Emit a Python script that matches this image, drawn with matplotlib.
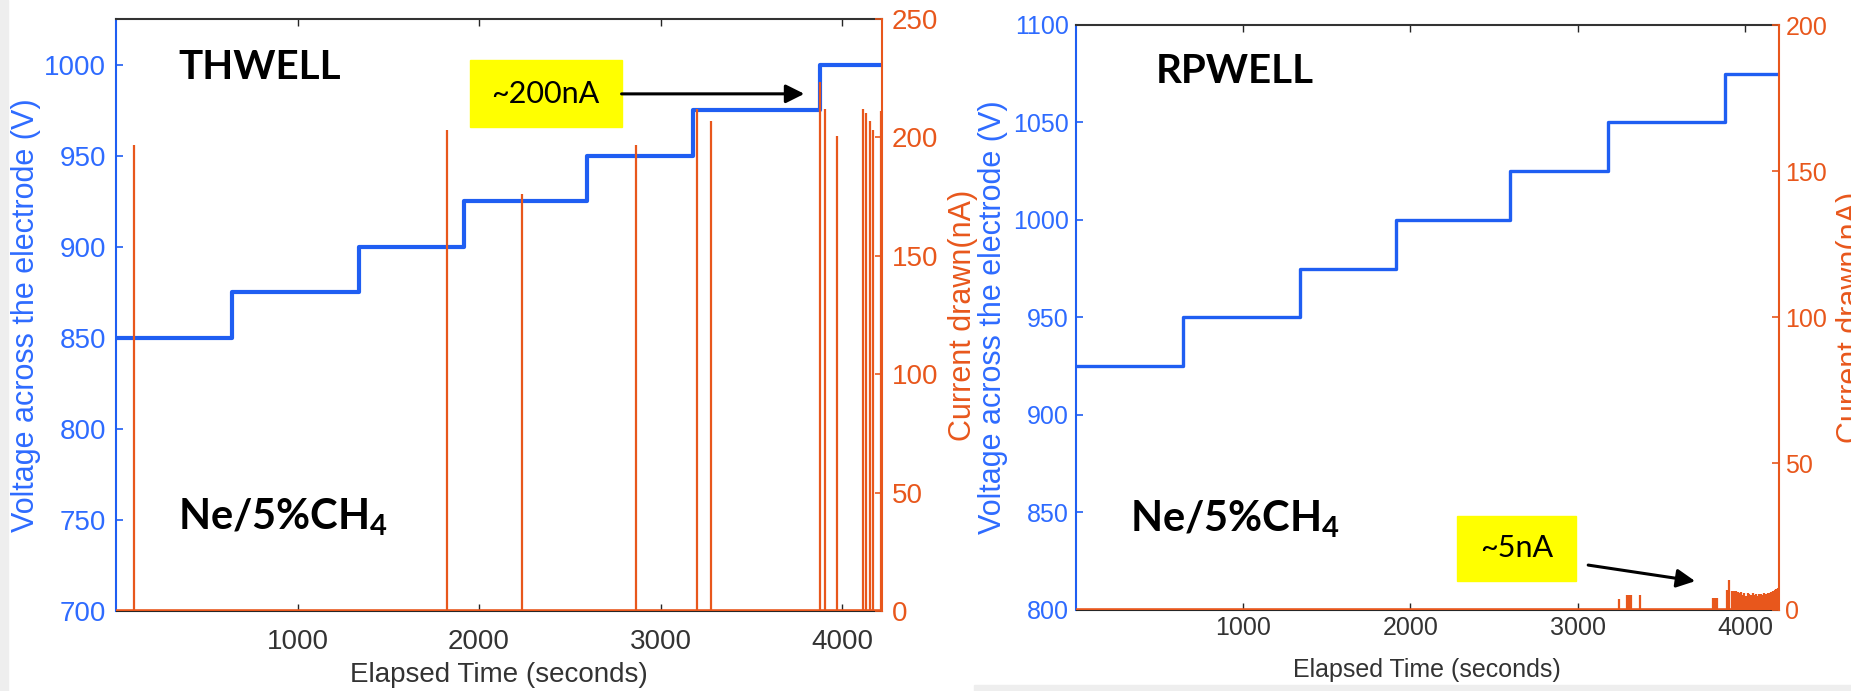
import matplotlib.pyplot as plt
from matplotlib.patches import Rectangle

plt.rcParams['font.family'] = ['Liberation Sans', 'DejaVu Sans']
plt.rcParams['mathtext.fontset'] = 'custom'
plt.rcParams['mathtext.rm'] = 'Lato'
plt.rcParams['mathtext.bf'] = 'Lato:bold'

# Voltage steps (same schedule for both detectors)
step_times = [0, 640, 1340, 1915, 2595, 3180, 3880]
thwell_volts = [850, 875, 900, 925, 950, 975, 1000]
rpwell_volts = [925, 950, 975, 1000, 1025, 1050, 1075]
thwell_end = 4220
rpwell_end = 4200

# Current spikes (seconds, nA)
thwell_spike_t = [98, 1823, 2234, 2863, 3199, 3277, 3881, 3908, 3970,
                  4115, 4130, 4156, 4168, 4212]
thwell_spike_i = [197, 203, 176, 197, 212, 207, 223.5, 212, 200.5,
                  212, 210.5, 207, 203, 211]

rpwell_spike_t = [3247, 3292, 3305, 3318, 3374,
                  3810, 3815, 3820, 3825, 3830,
                  3890, 3903, 3923, 3935, 3945, 3955, 3965, 3975, 3985, 3995,
                  4005, 4015, 4025, 4035, 4045, 4055, 4065, 4075, 4085, 4095,
                  4105, 4115, 4125, 4135, 4145, 4155, 4165, 4175, 4185, 4195]
rpwell_spike_i = [3.7, 5.1, 5.1, 5.1, 4.9,
                  4, 4, 4, 4, 4,
                  6.6, 10.2, 6.3, 6.3, 6.2, 6.0, 5.5, 6.0, 5.0, 5.8,
                  4.5, 5.6, 5.2, 4.8, 5.5, 5.0, 5.3, 4.6, 5.4, 5.2,
                  5.0, 5.5, 5.3, 5.8, 5.6, 6.0, 6.5, 6.8, 7.0, 7.2]

xticks = [1000, 2000, 3000, 4000]

BLUE = '#1F5EF2'
BLUE_TXT = '#2E6BFF'
ORANGE = '#E8571C'
GREY = '#262626'


def panel(rect, volts, end, vlim, vticks, ilim, iticks, spike_t, spike_i,
          volt_lw, fs, xpad, xlpad, ypad, vlpad, ilpad):
    ax = fig.add_axes(rect)
    ax.step(step_times + [end], volts + [volts[-1]], where='post',
            color=BLUE, lw=volt_lw, zorder=3)
    ax.set_xlim(0, end)
    ax.set_ylim(*vlim)
    ax.set_yticks(vticks)
    ax.set_xticks(xticks)
    ax.tick_params(axis='x', direction='in', top=True, length=5, width=1,
                   colors=GREY, labelsize=fs, pad=xpad, labelcolor='#333333')
    ax.tick_params(axis='y', direction='in', length=5, width=1.2,
                   colors=BLUE, labelsize=fs, pad=ypad, labelcolor=BLUE_TXT)
    ax.set_xlabel('Elapsed Time (seconds)', fontsize=fs, color='#333333',
                  labelpad=xlpad)
    ax.set_ylabel('Voltage across the electrode (V)', fontsize=22,
                  color=BLUE_TXT, labelpad=vlpad)
    ax.spines['left'].set_color(BLUE)
    ax.spines['left'].set_linewidth(1.5)
    ax.spines['top'].set_color('#333333')
    ax.spines['top'].set_linewidth(1.5)
    ax.spines['bottom'].set_color(GREY)
    ax.spines['right'].set_visible(False)

    ax2 = ax.twinx()
    ax2.vlines(spike_t, 0, spike_i, color=ORANGE, lw=1.6)
    ax2.axhline(0, color=ORANGE, lw=2.6)
    ax2.set_ylim(*ilim)
    ax2.set_yticks(iticks)
    ax2.tick_params(axis='y', direction='in', length=5, width=1.2,
                    colors=ORANGE, labelsize=fs, pad=ypad)
    ax2.set_ylabel('Current drawn(nA)', fontsize=22, color=ORANGE,
                   labelpad=ilpad)
    ax2.spines['right'].set_color(ORANGE)
    ax2.spines['right'].set_linewidth(1.5)
    for s in ['left', 'top', 'bottom']:
        ax2.spines[s].set_visible(False)
    return ax, ax2


fig = plt.figure(figsize=(18.51, 6.91), dpi=100)

# screenshot edges
fig.patches.append(Rectangle((0, 0), 8 / 1851, 1, transform=fig.transFigure,
                             color='#eeeeee', zorder=0))
fig.patches.append(Rectangle((974 / 1851, 0), 1, 6 / 691,
                             transform=fig.transFigure, color='#eeeeee',
                             zorder=0))

# THWELL panel
axL, axL2 = panel([116 / 1851, 80 / 691, 766 / 1851, 592 / 691],
                  thwell_volts, thwell_end, (700, 1025),
                  [700, 750, 800, 850, 900, 950, 1000], (0, 250),
                  [0, 50, 100, 150, 200, 250], thwell_spike_t, thwell_spike_i,
                  3.0, 20, 13, 5, 7, 2, 7)
axL2.text(0.081, 0.898, 'THWELL', transform=axL2.transAxes, fontsize=29,
          fontweight='bold', family='Lato', va='baseline', ha='left')
axL2.text(0.081, 0.1385, r'Ne/5%CH$_\mathbf{4}$', transform=axL2.transAxes,
          fontsize=30, fontweight='bold', family='Lato', va='baseline',
          ha='left')
axL2.add_patch(Rectangle((0.462, 0.818), 0.198, 0.113,
                         transform=axL2.transAxes, color='#FFFF00', zorder=5))
axL2.text(0.561, 0.874, '~200nA', transform=axL2.transAxes, fontsize=22,
          family='Lato', va='center', ha='center', zorder=6)
axL2.annotate('', xy=(3792, 218.4), xytext=(0.660, 0.8735),
              textcoords=axL2.transAxes,
              arrowprops=dict(arrowstyle='-|>', color='black', lw=2.2,
                              mutation_scale=28, shrinkA=0, shrinkB=0),
              zorder=6)

# RPWELL panel
axR, axR2 = panel([1075.7 / 1851, 81.5 / 691, 703 / 1851, 584.5 / 691],
                  rpwell_volts, rpwell_end, (800, 1100),
                  [800, 850, 900, 950, 1000, 1050, 1100], (0, 200),
                  [0, 50, 100, 150, 200], rpwell_spike_t, rpwell_spike_i,
                  2.4, 18, 4.5, 13, 4.8, 3.5, 6)
axR2.text(0.114, 0.9, 'RPWELL', transform=axR2.transAxes, fontsize=29,
          fontweight='bold', family='Lato', va='baseline', ha='left')
axR2.text(0.077, 0.134, r'Ne/5%CH$_\mathbf{4}$', transform=axR2.transAxes,
          fontsize=30, fontweight='bold', family='Lato', va='baseline',
          ha='left')
axR2.add_patch(Rectangle((0.543, 0.049), 0.168, 0.111,
                         transform=axR2.transAxes, color='#FFFF00', zorder=5))
axR2.text(0.627, 0.105, '~5nA', transform=axR2.transAxes, fontsize=22,
          family='Lato', va='center', ha='center', zorder=6)
axR2.annotate('', xy=(3701, 9.7), xytext=(0.729, 0.076),
              textcoords=axR2.transAxes,
              arrowprops=dict(arrowstyle='-|>', color='black', lw=2.2,
                              mutation_scale=28, shrinkA=0, shrinkB=0),
              zorder=6)

fig.savefig('out.png', dpi=100)
